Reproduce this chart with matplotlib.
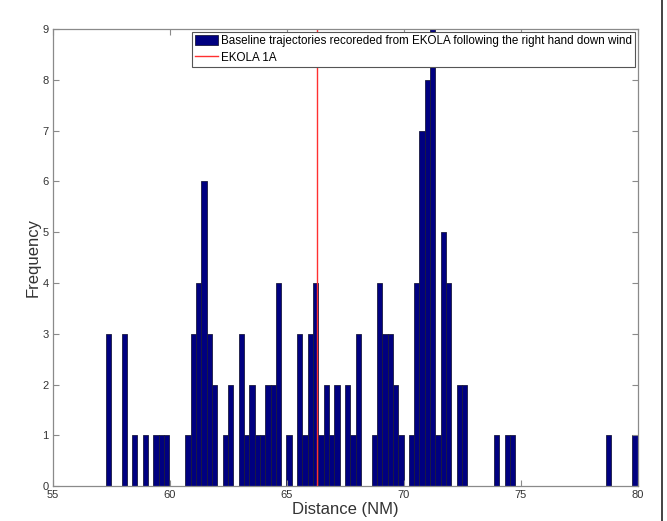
import matplotlib
matplotlib.use("Agg")
import matplotlib.pyplot as plt
from matplotlib.lines import Line2D
import numpy as np

# histogram: 100 bins between the shortest and longest distance (NM)
dist_min = 57.26
dist_max = 80.0
counts = [
    3, 0, 0, 3, 0, 1, 0, 1, 0, 1,
    1, 1, 0, 0, 0, 1, 3, 4, 6, 3,
    2, 0, 1, 2, 0, 3, 1, 2, 1, 1,
    2, 2, 4, 0, 1, 0, 3, 1, 3, 4,
    1, 2, 1, 2, 0, 2, 1, 3, 0, 0,
    1, 4, 3, 3, 2, 1, 0, 1, 4, 7,
    8, 9, 1, 5, 4, 0, 2, 2, 0, 0,
    0, 0, 0, 1, 0, 1, 1, 0, 0, 0,
    0, 0, 0, 0, 0, 0, 0, 0, 0, 0,
    0, 0, 0, 0, 1, 0, 0, 0, 0, 1,
]
ekola_1a = 66.3

x_ticks = [55, 60, 65, 70, 75, 80]
y_ticks = list(range(0, 10))

plt.rcParams['font.family'] = ['Liberation Sans', 'DejaVu Sans']

edges = np.linspace(dist_min, dist_max, len(counts) + 1)

fig = plt.figure(figsize=(6.67, 5.21), dpi=100)
ax = fig.add_axes([0.079, 0.067, 0.877, 0.877])

bars = ax.bar(edges[:-1], counts, width=np.diff(edges), align='edge',
              color='#000080', edgecolor='#1a1a40', linewidth=0.6)
line = ax.axvline(ekola_1a, color='#ff3030', linewidth=1.0)

ax.set_xlim(55, 80)
ax.set_ylim(0, 9)
ax.set_xticks(x_ticks)
ax.set_yticks(y_ticks)

for s in ax.spines.values():
    s.set_color('#8a8a8a')
    s.set_linewidth(0.9)
ax.tick_params(direction='in', length=4, width=0.8, color='#8a8a8a',
               top=True, right=True, labelsize=8, labelcolor='#333333', pad=3)

ax.set_xlabel('Distance (NM)', fontsize=12, color='#333333', labelpad=1)
ax.set_ylabel('Frequency', fontsize=12, color='#333333', labelpad=1)

leg = ax.legend([bars, line],
                ['Baseline trajectories recoreded from EKOLA following the right hand down wind',
                 'EKOLA 1A'],
                loc='upper right', fontsize=8.35, frameon=True, fancybox=False,
                borderaxespad=0.25, handlelength=2.0, handleheight=0.9,
                handletextpad=0.25, labelspacing=0.4, borderpad=0.25)
leg.get_frame().set_edgecolor('#555555')
leg.get_frame().set_linewidth(0.8)
leg.get_frame().set_alpha(1.0)

# dark border line on the right edge of the screenshot
fig.add_artist(Line2D([0.992, 0.992], [0, 1], transform=fig.transFigure,
                      color='#222222', linewidth=1.2))

fig.savefig('out.png', dpi=100)
